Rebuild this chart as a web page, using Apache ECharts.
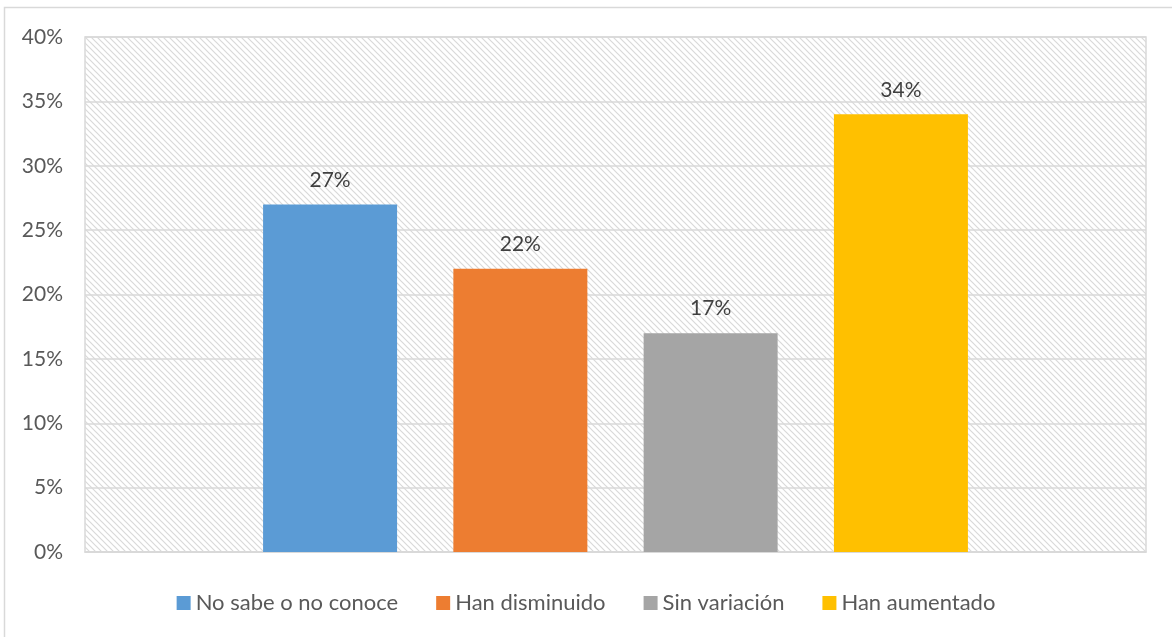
<!DOCTYPE html>
<html>
<head>
<meta charset="utf-8">
<script src="https://cdn.jsdelivr.net/npm/echarts@6/dist/echarts.min.js"></script>
<style>
* { margin: 0; padding: 0; }
#chart-container { width: 1172px; height: 637px; background: #fff; }
</style>
</head>
<body>
<div id="chart-container"></div>
<script>
const seriesNames = ['No sabe o no conoce', 'Han disminuido', 'Sin variación', 'Han aumentado']
const seriesValues = [27, 22, 17, 34]
const seriesColors = ['#5b9bd5', '#ed7d31', '#a5a5a5', '#ffc000']
const categories = ['']

// hatch pattern for the plot background
const makeHatch = () => {
  const c = document.createElement('canvas')
  c.width = 6
  c.height = 6
  const ctx = c.getContext('2d')
  ctx.fillStyle = '#ffffff'
  ctx.fillRect(0, 0, 6, 6)
  ctx.strokeStyle = '#d9d9d9'
  ctx.lineWidth = 1.2
  ctx.beginPath()
  ctx.moveTo(-1, -1); ctx.lineTo(7, 7)
  ctx.moveTo(-7, -1); ctx.lineTo(1, 7)
  ctx.moveTo(5, -1); ctx.lineTo(13, 7)
  ctx.stroke()
  return c
}

const chart = echarts.init(document.getElementById('chart-container'), null, { renderer: 'canvas' })
const font = 'Lato, "Open Sans", sans-serif'

const option = {
  animation: false,
  backgroundColor: '#ffffff',
  textStyle: { fontFamily: font },
  graphic: [{
    type: 'rect',
    shape: { x: 4.5, y: 7.5, width: 1180, height: 650 },
    style: { fill: 'none', stroke: '#d9d9d9', lineWidth: 1.5 },
    silent: true
  }],
  grid: {
    left: 85,
    right: 26,
    top: 37,
    bottom: 85,
    show: true,
    backgroundColor: { image: makeHatch(), repeat: 'repeat' },
    borderColor: '#d9d9d9',
    borderWidth: 1.5
  },
  legend: {
    bottom: 18,
    left: 'center',
    itemWidth: 14,
    itemHeight: 14,
    itemGap: 38,
    icon: 'rect',
    textStyle: { fontSize: 22, color: '#595959', fontFamily: font },
    data: seriesNames
  },
  xAxis: {
    type: 'category',
    data: categories,
    axisLine: { show: true, lineStyle: { color: '#d9d9d9', width: 1.5 } },
    axisTick: { show: false },
    axisLabel: { show: false },
    splitLine: { show: false }
  },
  yAxis: {
    type: 'value',
    min: 0,
    max: 40,
    interval: 5,
    axisLine: { show: false },
    axisTick: { show: false },
    axisLabel: {
      formatter: '{value}%',
      fontSize: 21,
      color: '#595959',
      margin: 22,
      fontFamily: font
    },
    splitLine: { lineStyle: { color: '#d9d9d9', width: 1.5 } }
  },
  series: seriesNames.map((name, i) => ({
    name: name,
    type: 'bar',
    data: [seriesValues[i]],
    barWidth: 134,
    barGap: '42%',
    itemStyle: { color: seriesColors[i] },
    label: {
      show: true,
      position: 'top',
      distance: 14,
      formatter: '{c}%',
      fontSize: 21,
      color: '#404040',
      fontFamily: font
    }
  }))
}

chart.setOption(option)
</script>
</body>
</html>
